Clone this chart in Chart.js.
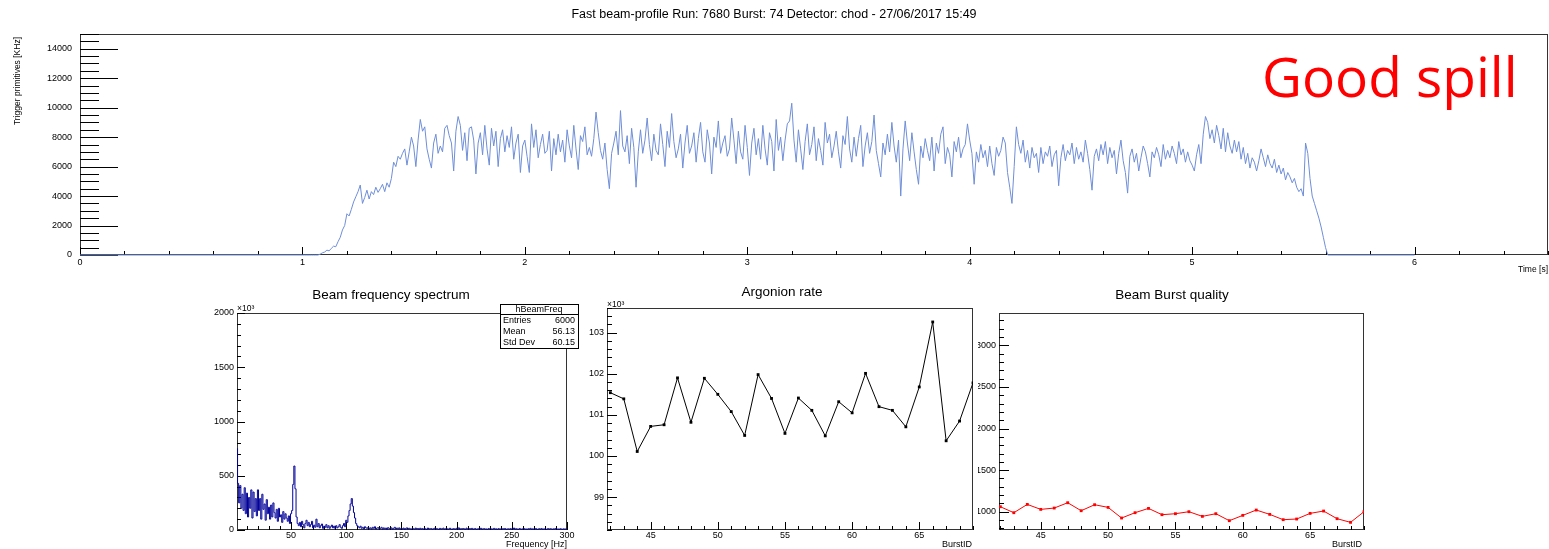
<!DOCTYPE html>
<html>
<head>
<meta charset="utf-8">
<script src="https://cdn.jsdelivr.net/npm/chart.js@4.4.0/dist/chart.umd.min.js"></script>
<style>
  html, body { margin: 0; background: #fff; width: 1549px; height: 549px; overflow: hidden; position: relative; }
  canvas { position: absolute; }
</style>
</head>
<body>
<canvas id="cSpill" width="1549" height="280" style="left:0;top:0"></canvas>
<canvas id="cFreq" width="400" height="269" style="left:190px;top:280px"></canvas>
<canvas id="cArgon" width="405" height="269" style="left:575px;top:280px"></canvas>
<canvas id="cQual" width="571" height="269" style="left:978px;top:280px"></canvas>
<script>
// Beam monitor canvas: spill profile on top, three small pads underneath.

// --- spill profile: trigger primitives [KHz], 10 ms samples starting at 1.00 s
const spillRange = [0, 6];          // histogram range in s, empty outside the samples
const spillStart = 1.0;
const spillStep = 0.01;
const spillRate = [
  0, 0, 0, 0, 0, 0, 0, 0, 60, 150,
  200, 330, 280, 450, 600, 560, 900, 1200, 1700, 2000,
  2800, 2650, 3100, 3600, 3950, 4300, 4750, 3500, 3900, 4400,
  3800, 4300, 4100, 4600, 4250, 4500, 4800, 4300, 4900, 4600,
  5200, 6300, 6000, 6700, 6500, 6900, 7200, 6100, 7000, 8000,
  7400, 6000, 7800, 9200, 8400, 8700, 7200, 6500, 5900, 7600,
  8200, 6900, 7400, 7000, 8600, 8800, 8100, 7600, 5700, 8400,
  9400, 8800, 7100, 8300, 6400, 8600, 8700, 7800, 5500, 7600,
  8300, 6800, 8800, 7200, 6100, 8600, 7400, 8400, 6000, 7900,
  8500, 7000, 8100, 7300, 8700, 6500, 7600, 8200, 5600, 7400,
  7800, 6700, 5600, 8900, 7300, 8500, 6600, 7500, 8200, 6900,
  7100, 8400, 5700, 7900, 6800, 8200, 7000, 7800, 6300, 8500,
  7400, 6600, 8800, 7200, 5800, 8100, 7700, 8700, 6800, 7300,
  6700, 7900, 9700, 8300, 7100, 6500, 7600, 5800, 4500, 6900,
  7600, 8400, 6800, 9800, 7400, 7000, 8100, 6200, 8600, 7300,
  4600, 7000, 8500, 6900, 7800, 9300, 7500, 6400, 8200, 7100,
  6800, 8900, 7500, 6000, 8400, 7300, 9600, 7700, 6600, 7200,
  8200, 5900, 7600, 8800, 6900, 7400, 8300, 6300, 7900, 9000,
  7000, 6300, 8500, 7600, 5500, 8000, 7300, 9100, 6900, 7600,
  8100, 6700, 7200, 9300, 7800, 6200, 8400, 7000, 6500, 8800,
  7300, 5400, 7600, 8600, 6800, 7900, 6500, 8800, 7200, 6100,
  8300, 7700, 5700, 9200, 7100, 8000, 6400, 7800, 8900, 9100,
  10300, 7800, 6300, 8500, 7200, 5800, 7700, 8900, 6800, 7500,
  8700, 6400, 7900, 7100, 6100, 9000, 7600, 8200, 6600, 7400,
  8400, 7000, 5900, 8100, 7500, 9400, 7200, 6300, 8000, 6700,
  7900, 8800, 6000, 7400, 8300, 6900, 7700, 9500, 7100, 6200,
  5300, 7600, 6800, 8200, 7000, 9000, 7400, 6300, 7800, 4000,
  7200, 9100, 7600, 6400, 8300, 7000, 5800, 4800, 7400, 6600,
  7900, 7100, 6400, 8000, 5700, 7600, 6900, 8200, 8700, 6200,
  7300, 6800, 5300, 7700, 7000, 8000, 6600, 7200, 7500, 8900,
  7800, 6900, 4800, 7000, 6300, 7500, 6600, 7100, 6000, 7400,
  6200, 5400, 7300, 6700, 7100, 8000, 7600, 5600, 4600, 3500,
  6000, 8700, 7500, 6900, 7800, 6300, 7100, 5900, 7300, 6600,
  6900, 5600, 7300, 6200, 7000, 6700, 7400, 6000, 6800, 7100,
  4700, 6600, 7500, 6400, 7100, 6800, 7600, 6200, 7300, 6500,
  7000, 6300, 7800, 6900, 5800, 4400, 6700, 7200, 6400, 7500,
  6800, 7700, 6200, 7300, 6600, 7100, 5500, 6900, 7800, 6400,
  5600, 4200, 6700, 7200, 6300, 6900, 5700, 6600, 7400, 7000,
  6200, 5300, 7000, 6600, 7300, 6800, 6000, 7500, 6500, 7100,
  6600, 7400, 6900, 6200, 7700, 6800, 7200, 6300, 7000, 6400,
  6100, 5700, 6800, 7500, 6200, 8200, 9400, 9000, 7900, 8500,
  7600, 8800, 8100, 7200, 8600, 7000, 8300, 7400, 6900, 7800,
  7000, 7700, 6500, 7300, 6200, 6900, 5900, 6600, 6300, 5700,
  6400, 7200, 6600, 6000, 6800, 6200, 5900, 6500, 5600, 6100,
  5500, 5900, 5100, 5600, 5300, 4900, 5200, 4600, 4300, 4500,
  4000, 7600, 6900, 5200, 4000, 3500, 3000, 2500, 1900, 1200,
  500, 0,
];

// --- hBeamFreq: 1 Hz bins, values in units of 10^3
const freqFirstBin = 1;
const beamFreq = [
  750, 430, 250, 410, 200, 330, 180, 390, 150, 340,
  120, 300, 200, 370, 110, 350, 170, 290, 130, 370,
  180, 290, 100, 330, 190, 240, 90, 280, 150, 210,
  100, 230, 120, 250, 160, 110, 190, 80, 200, 120,
  140, 70, 170, 100, 150, 110, 80, 130, 60, 150,
  180, 420, 590, 380, 120, 60, 40, 70, 30, 80,
  50, 20, 60, 90, 40, 70, 30, 50, 80, 20,
  45, 25, 100, 30, 60, 20, 40, 55, 15, 35,
  25, 50, 20, 40, 15, 30, 45, 20, 35, 15,
  40, 20, 30, 50, 25, 15, 40, 60, 30, 90,
  70, 130, 180, 240, 290, 220, 160, 110, 60, 40,
  30, 20, 35, 15, 25, 10, 30, 20, 15, 25,
  12, 20, 8, 25, 15, 30, 10, 18, 22, 10,
  15, 25, 8, 20, 12, 18, 6, 22, 14, 10,
  20, 8, 15, 25, 10, 18, 12, 20, 8, 15,
  10, 18, 6, 14, 20, 9, 16, 11, 7, 15,
  12, 8, 18, 10, 14, 6, 16, 9, 13, 7,
  15, 10, 6, 18, 9, 12, 14, 7, 11, 16,
  8, 13, 10, 6, 15, 9, 12, 17, 8, 11,
  14, 7, 10, 16, 9, 6, 13, 11, 8, 15,
  10, 20, 7, 12, 9, 14, 11, 6, 17, 10,
  8, 13, 9, 15, 7, 11, 14, 6, 10, 12,
  9, 16, 7, 11, 13, 8, 10, 6, 14, 9,
  12, 7, 10, 15, 8, 11, 6, 13, 9, 10,
  7, 12, 9, 14, 6, 10, 11, 8, 13, 7,
  10, 18, 8, 12, 9, 6, 14, 10, 7, 11,
  13, 8, 10, 6, 12, 9, 15, 7, 11, 8,
  10, 13, 6, 9, 12, 8, 14, 7, 10, 11,
  6, 9, 13, 8, 12, 10, 7, 11, 9, 14,
  8, 10, 6, 12, 9, 7, 11, 8, 10, 6,
];
const freqStats = [['Entries', '6000'], ['Mean', '56.13'], ['Std Dev', '60.15']];

// --- per-burst trends
const burstIds = [42, 43, 44, 45, 46, 47, 48, 49, 50, 51, 52, 53, 54, 55, 56, 57, 58, 59, 60, 61, 62, 63, 64, 65, 66, 67, 68, 69];
const argonionRate = [101.54, 101.39, 100.11, 100.72, 100.76, 101.90, 100.82, 101.89, 101.50, 101.08, 100.50, 101.98, 101.40, 100.55,
  101.41, 101.11, 100.49, 101.32, 101.05, 102.01, 101.20, 101.11, 100.71, 101.68, 103.26, 100.37, 100.85, 101.78];
const burstQuality = [1060, 988, 1088, 1028, 1044, 1108, 1012, 1084, 1052, 924, 988, 1040, 964, 976,
  1000, 944, 976, 892, 956, 1020, 968, 904, 912, 980, 1008, 916, 872, 1000];

const SCHRIFT = '"Liberation Sans", Arial, Helvetica, sans-serif';

function tickWerte(min, max, step) {
  const out = [];
  for (let i = Math.ceil(min / step - 1e-6); i * step <= max + 1e-6; i++) out.push(i * step);
  return out;
}
const istMajor = (v, major) => Math.abs(v / major - Math.round(v / major)) < 1e-4;

// ROOT-like frame: inward ticks on the left and bottom, labels outside, free texts.
// Frame and ticks go under the data, text on top.
const rootAxes = {
  id: 'rootAxes',
  beforeDatasetsDraw(chart, args, o) {
    if (!o.x) return;
    const { ctx, chartArea: a } = chart;
    const sx = chart.scales.x, sy = chart.scales.y;
    const L = Math.round(a.left), R = Math.round(a.right), T = Math.round(a.top), B = Math.round(a.bottom);
    ctx.save();
    ctx.lineWidth = 1;
    ctx.strokeStyle = '#333';
    ctx.strokeRect(L + .5, T + .5, R - L - 1, B - T - 1);

    ctx.strokeStyle = '#000';
    ctx.beginPath();
    for (const v of tickWerte(sx.min, sx.max, o.x.minor)) {
      const px = Math.round(sx.getPixelForValue(v)) + .5;
      const len = istMajor(v, o.x.major) ? o.x.majorLen : o.x.minorLen;
      ctx.moveTo(px, B); ctx.lineTo(px, B - len);
    }
    for (const v of tickWerte(sy.min, sy.max, o.y.minor)) {
      const py = Math.round(sy.getPixelForValue(v)) + .5;
      const len = istMajor(v, o.y.major) ? o.y.majorLen : o.y.minorLen;
      ctx.moveTo(L, py); ctx.lineTo(L + len, py);
    }
    ctx.stroke();
    ctx.restore();
  },
  afterDraw(chart, args, o) {
    if (!o.x) return;
    const { ctx, chartArea: a } = chart;
    const sx = chart.scales.x, sy = chart.scales.y;
    const L = Math.round(a.left), B = Math.round(a.bottom);
    ctx.save();
    ctx.fillStyle = '#000';
    ctx.font = `${o.tickSize}px ${SCHRIFT}`;
    ctx.textBaseline = 'middle';
    ctx.textAlign = 'center';
    for (const v of tickWerte(sx.min, sx.max, o.x.major)) {
      ctx.fillText(String(Math.round(v)), sx.getPixelForValue(v), B + o.x.gap);
    }
    ctx.textAlign = 'right';
    for (const v of tickWerte(sy.min, sy.max, o.y.major)) {
      ctx.fillText(String(Math.round(v)), L - o.y.gap, sy.getPixelForValue(v));
    }

    for (const t of o.texts || []) {
      ctx.save();
      ctx.font = `${t.size}px ${t.family || SCHRIFT}`;
      ctx.fillStyle = t.color || '#000';
      ctx.textAlign = t.align || 'center';
      ctx.textBaseline = t.base || 'middle';
      ctx.translate(t.x, t.y);
      if (t.rot) ctx.rotate(t.rot);
      ctx.fillText(t.text, 0, 0);
      ctx.restore();
    }

    if (o.stats) {
      const s = o.stats;
      ctx.fillStyle = '#fff';
      ctx.fillRect(s.x, s.y, s.w, s.h);
      ctx.strokeStyle = '#000';
      ctx.lineWidth = 1;
      ctx.strokeRect(s.x + .5, s.y + .5, s.w, s.h);
      ctx.beginPath();
      ctx.moveTo(s.x, s.y + s.head + .5); ctx.lineTo(s.x + s.w, s.y + s.head + .5);
      ctx.stroke();
      ctx.fillStyle = '#000';
      ctx.font = `${s.size}px ${SCHRIFT}`;
      ctx.textAlign = 'center';
      ctx.fillText(s.title, s.x + s.w / 2, s.y + s.head / 2 + 1);
      s.rows.forEach(([k, v], i) => {
        const y = s.y + s.head + s.row * (i + 0.5) + 1;
        ctx.textAlign = 'left'; ctx.fillText(k, s.x + 3, y);
        ctx.textAlign = 'right'; ctx.fillText(v, s.x + s.w - 3, y);
      });
    }
    ctx.restore();
  },
};
Chart.register(rootAxes);

function pad(canvasId, datasets, padding, xr, yr, axes) {
  return new Chart(document.getElementById(canvasId), {
    type: 'line',
    data: { datasets },
    options: {
      responsive: false,
      animation: false,
      layout: { padding },
      plugins: { legend: { display: false }, tooltip: { enabled: false }, rootAxes: axes },
      scales: {
        x: { type: 'linear', display: false, min: xr[0], max: xr[1] },
        y: { type: 'linear', display: false, min: yr[0], max: yr[1] },
      },
    },
  });
}

const spillPunkte = [
  { x: spillRange[0], y: 0 },
  ...spillRate.map((v, i) => ({ x: spillStart + i * spillStep, y: v })),
  { x: spillRange[1], y: 0 },
];

pad('cSpill', [{
  data: spillPunkte, borderColor: '#6f8ed8', borderWidth: 1, pointRadius: 0, tension: 0, clip: 2,
}], { left: 80, top: 34, right: 1, bottom: 25 }, [0, 6.6], [0, 15000], {
  tickSize: 9,
  x: { major: 1, minor: 0.2, majorLen: 8, minorLen: 4, gap: 8 },
  y: { major: 2000, minor: 500, majorLen: 38, minorLen: 19, gap: 8 },
  texts: [
    { text: 'Fast beam-profile Run: 7680 Burst: 74 Detector: chod - 27/06/2017 15:49', x: 774, y: 15, size: 12.5 },
    { text: 'Good spill', x: 1262, y: 97, size: 55, family: '"Open Sans", sans-serif', color: '#ff0000', align: 'left', base: 'alphabetic' },
    { text: 'Trigger primitives [KHz]', x: 18, y: 81, size: 8.5, rot: -Math.PI / 2 },
    { text: 'Time [s]', x: 1548, y: 270, size: 8.5, align: 'right' },
  ],
});

pad('cFreq', [{
  data: beamFreq.map((v, i) => ({ x: freqFirstBin + i, y: v })),
  borderColor: '#000099', borderWidth: 1, pointRadius: 0, stepped: 'middle',
}], { left: 47, top: 33, right: 23, bottom: 19 }, [1, 300], [0, 2000], {
  tickSize: 9,
  x: { major: 50, minor: 10, majorLen: 8, minorLen: 4, gap: 6 },
  y: { major: 500, minor: 100, majorLen: 8, minorLen: 4, gap: 3 },
  texts: [
    { text: 'Beam frequency spectrum', x: 201, y: 15, size: 13.5 },
    { text: '×10³', x: 47, y: 29, size: 8.5, align: 'left' },
    { text: 'Frequency [Hz]', x: 377, y: 265, size: 9, align: 'right' },
  ],
  stats: { x: 310, y: 24, w: 78, h: 44, head: 10, row: 11, size: 9, title: 'hBeamFreq', rows: freqStats },
});

pad('cArgon', [{
  data: burstIds.map((b, i) => ({ x: b, y: argonionRate[i] })),
  borderColor: '#000', borderWidth: 1, tension: 0,
  pointStyle: 'rect', pointRadius: 2, pointBackgroundColor: '#000', pointBorderWidth: 0,
}], { left: 32, top: 28, right: 7, bottom: 19 }, [41.75, 69], [98.2, 103.6], {
  tickSize: 9,
  x: { major: 5, minor: 1, majorLen: 8, minorLen: 4, gap: 6 },
  y: { major: 1, minor: 0.2, majorLen: 10, minorLen: 5, gap: 3 },
  texts: [
    { text: 'Argonion rate', x: 207, y: 12, size: 13.5 },
    { text: '×10³', x: 32, y: 25, size: 8.5, align: 'left' },
    { text: 'BurstID', x: 397, y: 265, size: 9, align: 'right' },
  ],
});

pad('cQual', [{
  data: burstIds.map((b, i) => ({ x: b, y: burstQuality[i] })),
  borderColor: '#ff0000', borderWidth: 1, tension: 0,
  pointStyle: 'rect', pointRadius: 2, pointBackgroundColor: '#ff0000', pointBorderWidth: 0,
}], { left: 21, top: 33, right: 185, bottom: 19 }, [41.9, 69], [780, 3390], {
  tickSize: 9,
  x: { major: 5, minor: 1, majorLen: 8, minorLen: 4, gap: 6 },
  y: { major: 500, minor: 100, majorLen: 10, minorLen: 5, gap: 3 },
  texts: [
    { text: 'Beam Burst quality', x: 194, y: 15, size: 13.5 },
    { text: 'BurstID', x: 384, y: 265, size: 9, align: 'right' },
  ],
});
</script>
</body>
</html>
